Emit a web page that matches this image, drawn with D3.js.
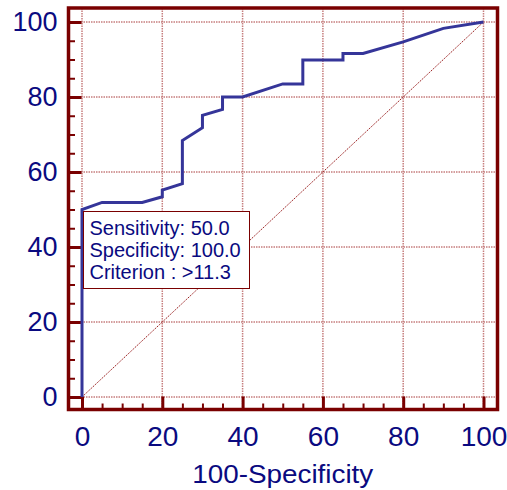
<!DOCTYPE html>
<html>
<head>
<meta charset="utf-8">
<script src="https://cdn.jsdelivr.net/npm/d3@7"></script>
<style>
  body { margin: 0; background: #fff; }
  text { font-family: "Liberation Sans", Arial, sans-serif; }
</style>
</head>
<body>
<svg width="507" height="490"></svg>
<script>
// ROC curve: x = 100-Specificity, y = Sensitivity
let fpr = [0, 0, 5, 15, 20, 20, 25, 25, 30, 30, 35, 35, 40, 50, 55, 55, 65, 65, 70, 80, 90, 100];
let sens = [0, 50, 51.9, 51.9, 53.4, 55.2, 56.9, 68.4, 71.8, 75.1, 76.7, 80, 80, 83.5, 83.5, 89.9, 89.9, 91.6, 91.6, 94.7, 98.3, 100];

let majorTicks = [0, 20, 40, 60, 80, 100];
let minorTicks = [5, 10, 15, 25, 30, 35, 45, 50, 55, 65, 70, 75, 85, 90, 95];

let infoLines = ['Sensitivity: 50.0', 'Specificity: 100.0', 'Criterion : >11.3'];
let xTitle = '100-Specificity';

let frameColor = '#7a0000';
let textColor = '#0a0a80';

let frame = { left: 68.5, top: 8, right: 497.5, bottom: 409.5 };

let xScale = d3.scaleLinear().domain([0, 100]).range([82, 483.5]);
let yScale = d3.scaleLinear().domain([0, 100]).range([397, 22]);

let svg = d3.select('svg');

// grid lines
svg.append('g')
  .selectAll('line')
  .data(majorTicks)
  .enter()
  .append('line')
  .attr('x1', frame.left)
  .attr('x2', frame.right)
  .attr('y1', d => yScale(d))
  .attr('y2', d => yScale(d))
  .style('stroke', '#a83a3a')
  .style('stroke-width', 1)
  .style('stroke-dasharray', '1.5,1');

svg.append('g')
  .selectAll('line')
  .data(majorTicks)
  .enter()
  .append('line')
  .attr('x1', d => xScale(d))
  .attr('x2', d => xScale(d))
  .attr('y1', frame.top)
  .attr('y2', frame.bottom)
  .style('stroke', '#c67e7e')
  .style('stroke-width', 1.5)
  .style('stroke-dasharray', '1.5,1');

// diagonal reference line
svg.append('line')
  .attr('x1', xScale(0))
  .attr('y1', yScale(0))
  .attr('x2', xScale(100))
  .attr('y2', yScale(100))
  .style('stroke', '#9a2020')
  .style('stroke-width', 1)
  .style('stroke-dasharray', '1.5,1');

// axes: ticks point inward from the frame
let yAxis = d3.axisLeft(yScale).tickValues(majorTicks).tickSize(-13).tickPadding(11).tickFormat(d3.format('d'));
let xAxis = d3.axisBottom(xScale).tickValues(majorTicks).tickSize(-13).tickPadding(17).tickFormat(d3.format('d'));
let yMinor = d3.axisLeft(yScale).tickValues(minorTicks).tickSize(-6.5).tickFormat('');
let xMinor = d3.axisBottom(xScale).tickValues(minorTicks).tickSize(-6).tickFormat('');

function styleAxis(g, w, size) {
  g.select('.domain').remove();
  g.selectAll('.tick line').style('stroke', frameColor).style('stroke-width', w);
  g.selectAll('.tick text')
    .style('fill', textColor)
    .style('font-size', size + 'px')
    .style('font-family', '"Liberation Sans", Arial, sans-serif');
}

svg.append('g').attr('transform', 'translate(' + frame.left + ',0)').call(yMinor).call(g => styleAxis(g, 2, 27));
svg.append('g').attr('transform', 'translate(0,' + frame.bottom + ')').call(xMinor).call(g => styleAxis(g, 2, 27));
svg.append('g').attr('transform', 'translate(' + frame.left + ',0)').call(yAxis).call(g => styleAxis(g, 3, 27));
svg.append('g').attr('transform', 'translate(0,' + frame.bottom + ')').call(xAxis).call(g => styleAxis(g, 3, 28));

// ROC curve
let line = d3.line()
  .x((d, i) => xScale(fpr[i]))
  .y(d => yScale(d));

svg.append('path')
  .datum(sens)
  .attr('d', line)
  .style('fill', 'none')
  .style('stroke', '#353599')
  .style('stroke-width', 3)
  .style('stroke-linejoin', 'miter');

// frame
svg.append('rect')
  .attr('x', frame.left)
  .attr('y', frame.top)
  .attr('width', frame.right - frame.left)
  .attr('height', frame.bottom - frame.top)
  .style('fill', 'none')
  .style('stroke', frameColor)
  .style('stroke-width', 3.5);

// info box
let box = svg.append('g').attr('transform', 'translate(83.5,211.5)');
box.append('rect')
  .attr('width', 166)
  .attr('height', 77)
  .style('fill', '#fff')
  .style('stroke', frameColor)
  .style('stroke-width', 1);
box.selectAll('text')
  .data(infoLines)
  .enter()
  .append('text')
  .attr('x', 6)
  .attr('y', (d, i) => 23.5 + i * 22)
  .style('fill', textColor)
  .style('font-size', '20px')
  .text(d => d);

// axis title
svg.append('text')
  .attr('x', (xScale(0) + xScale(100)) / 2)
  .attr('y', 482.5)
  .attr('textLength', 181)
  .attr('lengthAdjust', 'spacingAndGlyphs')
  .style('text-anchor', 'middle')
  .style('fill', textColor)
  .style('font-size', '26px')
  .text(xTitle);
</script>
</body>
</html>
